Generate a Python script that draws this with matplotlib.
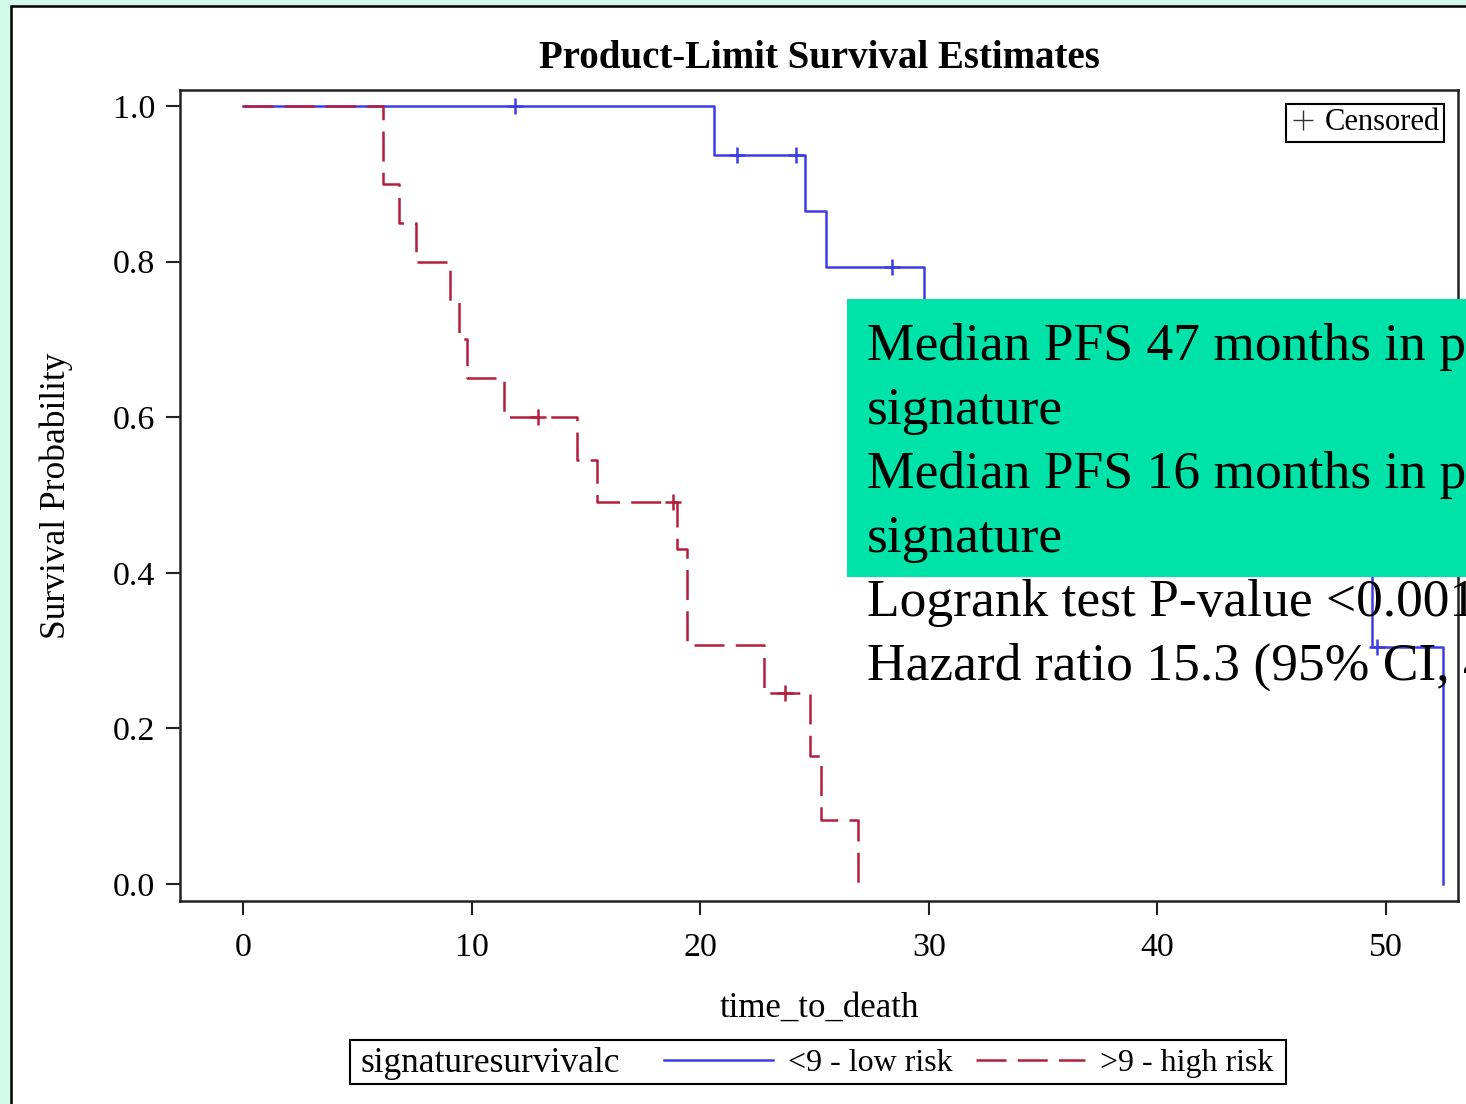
import numpy as np
import matplotlib.pyplot as plt
from matplotlib.lines import Line2D
from matplotlib.patches import Rectangle

plt.rcParams['font.family'] = ['Liberation Serif', 'DejaVu Serif']

# Kaplan-Meier step data
low_t = [0, 20.6, 24.6, 25.5, 29.8, 33.5, 41.2, 47.0, 49.4, 52.5]
low_s = [1.0, 0.9375, 0.865, 0.793, 0.714, 0.634, 0.544, 0.453, 0.305, 0.0]
low_cens = [11.9, 21.6, 24.2, 28.4, 38.0, 49.6]

high_t = [0, 6.1, 6.8, 7.55, 9.05, 9.45, 9.8, 11.4, 14.6, 15.5, 19.0, 19.4, 22.8, 24.8, 25.3, 26.9]
high_s = [1.0, 0.9, 0.85, 0.8, 0.75, 0.7, 0.65, 0.6, 0.545, 0.491, 0.43, 0.307, 0.246, 0.164, 0.082, 0.0]
high_cens = [12.9, 18.8, 23.7]

group_name = 'signaturesurvivalc'
group_labels = ['<9 - low risk', '>9 - high risk']
xticks = [0, 10, 20, 30, 40, 50]
yticks = [0.0, 0.2, 0.4, 0.6, 0.8, 1.0]

# text box pasted over the chart on the slide (runs past the right edge there)
note_lines = ['Median PFS 47 months in pt',
              'signature',
              'Median PFS 16 months in pt',
              'signature',
              'Logrank test P-value <0.001',
              'Hazard ratio 15.3 (95% CI, 4']

blue = '#3c3ce6'
red = '#b41e3c'


def at_time(t, s, c):
    idx = np.searchsorted(t, c, side='right') - 1
    return np.asarray(s)[idx]


W, H = 1466, 1104
fig = plt.figure(figsize=(W / 100, H / 100), dpi=100)
fig.patch.set_facecolor('#d2fbec')
fig.add_artist(Rectangle((11 / W, -0.02), 1.0, 1.02 - 6 / H, transform=fig.transFigure,
                         facecolor='white', edgecolor='black', lw=1.8, zorder=-5))

ax = fig.add_axes([180 / W, 1 - 901 / H, (1458 - 180) / W, (901 - 90) / H])
ax.set_xlim(-2.76, 53.15)
ax.set_ylim(-0.0219, 1.0206)

ax.step(low_t, low_s, where='post', color=blue, lw=1.8)
ax.step(high_t, high_s, where='post', color=red, lw=1.8, dashes=(12, 4.5))
ax.plot(low_cens, at_time(low_t, low_s, low_cens), ls='none', marker='+',
        color=blue, markersize=12, mew=1.8)
ax.plot(high_cens, at_time(high_t, high_s, high_cens), ls='none', marker='+',
        color=red, markersize=12, mew=1.8)

ax.set_xticks(xticks)
ax.set_xticklabels([str(v) for v in xticks])
ax.set_yticks(yticks)
ax.set_yticklabels([f'{v:.1f}' for v in yticks])
ax.tick_params(direction='out', length=10, width=1.5, labelsize=24.5, color='#222')
ax.tick_params(axis='x', pad=13)
ax.tick_params(axis='y', pad=8)
for sp in ax.spines.values():
    sp.set_linewidth(1.8)
    sp.set_color('#222')

ax.set_title('Product-Limit Survival Estimates', fontsize=28, fontweight='bold', pad=16)
ax.set_xlabel('time_to_death', fontsize=25)
ax.xaxis.set_label_coords(0.5, -0.112)
ax.set_ylabel('Survival Probability', fontsize=25.5)
ax.yaxis.set_label_coords(-0.084, 0.5)

cens_leg = ax.legend(handles=[Line2D([], [], marker='+', color='#333', ls='none',
                                     markersize=14, mew=1.0)],
                     labels=['Censored'], loc='upper right', fontsize=22,
                     fancybox=False, edgecolor='black', framealpha=1,
                     handlelength=0.8, handletextpad=0.3, borderpad=0.15,
                     borderaxespad=0.45)
cens_leg.get_frame().set_linewidth(1.5)

# bottom group legend
fig.add_artist(Rectangle((350 / W, 1 - 1084 / H), (1286 - 350) / W, 44 / H,
                         transform=fig.transFigure, facecolor='white',
                         edgecolor='black', lw=1.5))
fig.text(360 / W, 1 - 1063 / H, group_name, fontsize=25.5, va='center', ha='left')
fig.legend(handles=[Line2D([], [], color=blue, lw=1.8),
                    Line2D([], [], color=red, lw=1.8, dashes=(12, 4.5))],
           labels=group_labels, ncol=2, frameon=False, loc='center left',
           bbox_to_anchor=(648 / W, 1 - 1063 / H), fontsize=23, borderpad=0,
           handlelength=3.4, handletextpad=0.47, columnspacing=0.75)

# overlaid text box from the slide
ov = fig.add_axes([847 / W, 1 - 700 / H, (W - 847) / W, (700 - 299) / H])
ov.set_xlim(847, W)
ov.set_ylim(700, 299)
ov.axis('off')
ov.add_patch(Rectangle((847, 299), W - 847, 577 - 299, facecolor='#00e3a8', edgecolor='none'))
for i, line in enumerate(note_lines):
    ov.text(867, 360 + i * 64, line, fontsize=38.5, va='baseline', ha='left', clip_on=True)

fig.savefig('out.png', dpi=100)
